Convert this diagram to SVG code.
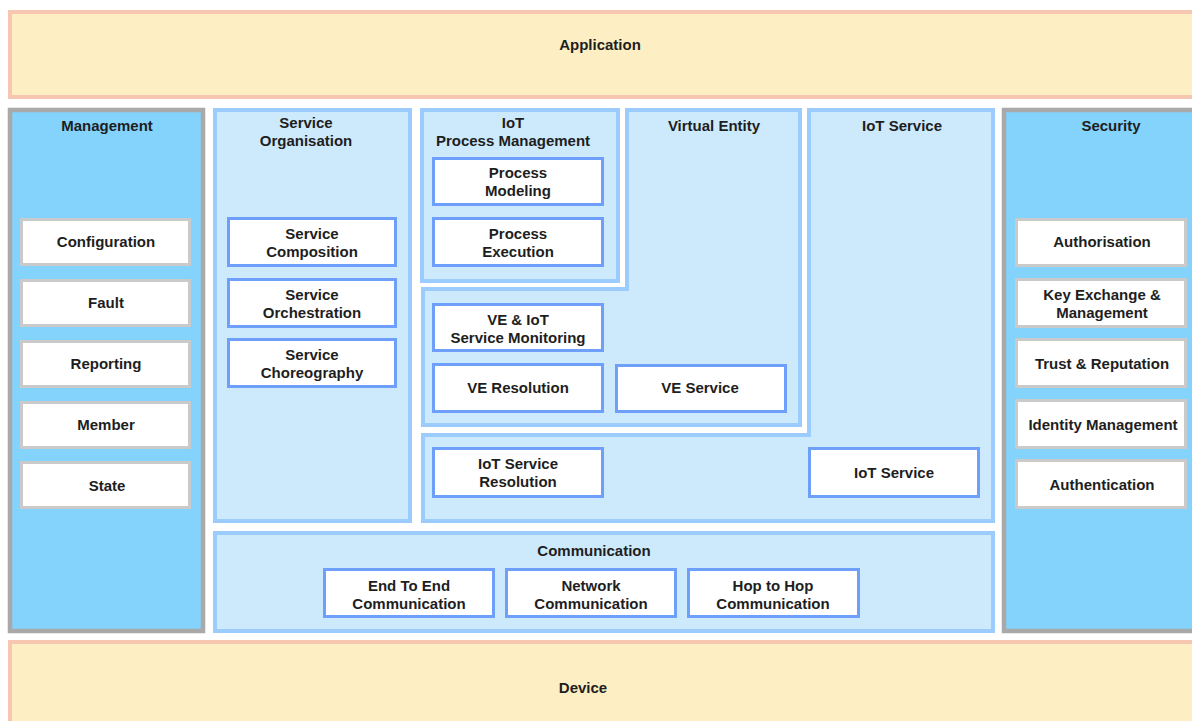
<svg xmlns="http://www.w3.org/2000/svg" width="1192" height="721" viewBox="0 0 1192 721">
<style>
  text { font-family: "Liberation Sans", Arial, sans-serif; font-size: 15px; font-weight: bold; fill: #1e1e1e; text-anchor: middle; }
  .layer { fill: #fdefc3; stroke: #f6c6b1; stroke-width: 4; }
  .side { fill: #83d3fd; stroke: #a9a9a9; stroke-width: 4.5; }
  .cont { fill: #cdeafd; stroke: #9ccbfd; stroke-width: 4; }
  .gbox { fill: #ffffff; stroke: #cacaca; stroke-width: 3; }
  .bbox { fill: #ffffff; stroke: #6e9ffb; stroke-width: 3; }
</style>
<rect width="1192" height="721" fill="#ffffff"/>

<g id="application">
  <rect class="layer" x="10" y="12" width="1190" height="85"/>
  <text x="600" y="50">Application</text>
</g>

<g id="device">
  <rect class="layer" x="10" y="642" width="1190" height="90"/>
  <text x="583" y="693">Device</text>
</g>

<g id="management">
  <rect class="side" x="10" y="110" width="193" height="521"/>
  <text x="107" y="131">Management</text>
  <g id="configuration"><rect class="gbox" x="21.5" y="219.5" width="168" height="45"/><text x="106" y="247">Configuration</text></g>
  <g id="fault"><rect class="gbox" x="21.5" y="280.5" width="168" height="45"/><text x="106" y="308">Fault</text></g>
  <g id="reporting"><rect class="gbox" x="21.5" y="341.5" width="168" height="45"/><text x="106" y="369">Reporting</text></g>
  <g id="member"><rect class="gbox" x="21.5" y="402.5" width="168" height="45"/><text x="106" y="430">Member</text></g>
  <g id="state"><rect class="gbox" x="21.5" y="462.5" width="168" height="45"/><text x="107" y="491">State</text></g>
</g>

<g id="security">
  <rect class="side" x="1004" y="110" width="200" height="521"/>
  <text x="1111" y="131">Security</text>
  <g id="authorisation"><rect class="gbox" x="1016.5" y="219.5" width="169" height="46"/><text x="1102" y="247">Authorisation</text></g>
  <g id="key-exchange"><rect class="gbox" x="1016.5" y="279.5" width="169" height="47"/><text x="1102" y="300">Key Exchange &amp;</text><text x="1102" y="318">Management</text></g>
  <g id="trust"><rect class="gbox" x="1016.5" y="339.5" width="169" height="47"/><text x="1102" y="369">Trust &amp; Reputation</text></g>
  <g id="identity"><rect class="gbox" x="1016.5" y="400.5" width="169" height="47"/><text x="1103" y="430">Identity Management</text></g>
  <g id="authentication"><rect class="gbox" x="1016.5" y="460.5" width="169" height="47"/><text x="1102" y="490">Authentication</text></g>
</g>

<g id="service-organisation">
  <rect class="cont" x="215" y="110" width="195" height="411"/>
  <text x="306" y="128">Service</text>
  <text x="306" y="146">Organisation</text>
  <g id="service-composition"><rect class="bbox" x="228.5" y="218.5" width="167" height="47"/><text x="312" y="239">Service</text><text x="312" y="257">Composition</text></g>
  <g id="service-orchestration"><rect class="bbox" x="228.5" y="279.5" width="167" height="47"/><text x="312" y="300">Service</text><text x="312" y="318">Orchestration</text></g>
  <g id="service-choreography"><rect class="bbox" x="228.5" y="339.5" width="167" height="47"/><text x="312" y="360">Service</text><text x="312" y="378">Choreography</text></g>
</g>

<g id="iot-service">
  <path class="cont" d="M809,110 H993 V521 H423 V435 H809 Z"/>
  <text x="902" y="131">IoT Service</text>
  <g id="iot-service-resolution"><rect class="bbox" x="433.5" y="448.5" width="169" height="48"/><text x="518" y="469">IoT Service</text><text x="518" y="487">Resolution</text></g>
  <g id="iot-service-box"><rect class="bbox" x="809.5" y="448.5" width="169" height="48"/><text x="894" y="478">IoT Service</text></g>
</g>

<g id="virtual-entity">
  <path class="cont" d="M627,110 H800 V425 H423 V289 H627 Z"/>
  <text x="714" y="131">Virtual Entity</text>
  <g id="ve-monitoring"><rect class="bbox" x="433.5" y="304.5" width="169" height="46"/><text x="518" y="325">VE &amp; IoT</text><text x="518" y="343">Service Monitoring</text></g>
  <g id="ve-resolution"><rect class="bbox" x="433.5" y="364.5" width="169" height="47"/><text x="518" y="393">VE Resolution</text></g>
  <g id="ve-service"><rect class="bbox" x="616.5" y="365.5" width="169" height="46"/><text x="700" y="393">VE Service</text></g>
</g>

<g id="iot-process-management">
  <rect class="cont" x="422" y="110" width="196" height="171"/>
  <text x="513" y="128">IoT</text>
  <text x="513" y="146">Process Management</text>
  <g id="process-modeling"><rect class="bbox" x="433.5" y="158.5" width="169" height="46"/><text x="518" y="178">Process</text><text x="518" y="196">Modeling</text></g>
  <g id="process-execution"><rect class="bbox" x="433.5" y="218.5" width="169" height="47"/><text x="518" y="239">Process</text><text x="518" y="257">Execution</text></g>
</g>

<g id="communication">
  <rect class="cont" x="215" y="533" width="778" height="98"/>
  <text x="594" y="556">Communication</text>
  <g id="end-to-end"><rect class="bbox" x="324.5" y="569.5" width="169" height="47"/><text x="409" y="591">End To End</text><text x="409" y="609">Communication</text></g>
  <g id="network"><rect class="bbox" x="506.5" y="569.5" width="169" height="47"/><text x="591" y="591">Network</text><text x="591" y="609">Communication</text></g>
  <g id="hop-to-hop"><rect class="bbox" x="688.5" y="569.5" width="170" height="47"/><text x="773" y="591">Hop to Hop</text><text x="773" y="609">Communication</text></g>
</g>

<g id="connectors"></g>
</svg>
